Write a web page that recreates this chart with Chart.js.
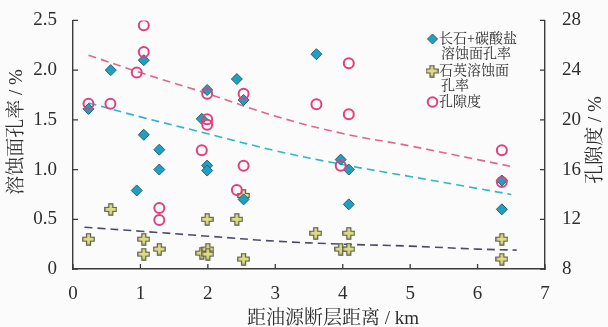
<!DOCTYPE html>
<html>
<head>
<meta charset="utf-8">
<script src="https://cdn.jsdelivr.net/npm/chart.js@4.4.0/dist/chart.umd.min.js"></script>
<style>
  html, body { margin: 0; padding: 0; background: #fbfbfb; }
  #wrap { width: 608px; height: 327px; }
</style>
</head>
<body>
<div id="wrap"><canvas id="c" width="608" height="327"></canvas></div>
<script>
// Distance to oil-source fault (km) and measured dissolution / porosity values
const feldsparDist = [0.23, 0.56, 1.05, 1.05, 0.945, 1.28, 1.28, 1.99, 1.91, 1.99, 1.99, 2.43, 2.53, 2.53, 3.61, 3.97, 4.09, 4.09, 6.36, 6.36];
const feldsparRate = [1.61, 2.00, 2.10, 1.35, 0.79, 1.20, 1.00, 1.80, 1.51, 1.04, 0.99, 1.91, 1.70, 0.70, 2.16, 1.10, 1.00, 0.65, 0.89, 0.60];

const quartzDist = [0.23, 0.56, 1.05, 1.05, 1.28, 1.99, 1.91, 2.00, 2.00, 2.43, 2.53, 2.53, 3.60, 4.09, 3.97, 4.09, 6.36, 6.36];
const quartzRate = [0.30, 0.60, 0.30, 0.15, 0.20, 0.50, 0.16, 0.20, 0.15, 0.50, 0.74, 0.10, 0.36, 0.36, 0.20, 0.20, 0.30, 0.10];

const porosityDist = [1.05, 1.05, 0.945, 0.23, 0.555, 1.99, 1.99, 1.99, 1.91, 2.53, 2.53, 2.43, 1.28, 1.28, 4.09, 3.61, 4.09, 3.97, 6.36, 6.36];
const porosity     = [27.6, 25.45, 23.8, 21.3, 21.3, 22.1, 20.05, 19.6, 17.55, 22.1, 16.3, 14.35, 12.9, 11.95, 24.55, 21.25, 20.45, 16.3, 17.55, 15.0];

// Trend curves
const feldsparTrendDist = [0.23, 1, 2, 3, 4, 5, 6, 6.5];
const feldsparTrend     = [1.67, 1.53, 1.36, 1.19, 1.05, 0.93, 0.81, 0.75];
const quartzTrendDist   = [0.17, 1, 2, 3, 4, 5, 6, 6.58];
const quartzTrend       = [0.42, 0.38, 0.33, 0.28, 0.25, 0.23, 0.20, 0.19];
const porosityTrendDist = [0.23, 1, 2, 3, 4, 5, 6, 6.55];
const porosityTrend     = [25.2, 23.8, 22.1, 20.3, 18.9, 17.9, 16.8, 16.2];

// Axis tick labels and titles
const xTickLabels = ['0', '1', '2', '3', '4', '5', '6', '7'];
const yTickLabels = ['0', '0.5', '1.0', '1.5', '2.0', '2.5'];
const y1TickLabels = ['8', '12', '16', '20', '24', '28'];
const xTitle = '距油源断层距离 / km';
const yTitle = '溶蚀面孔率 / %';
const y1Title = '孔隙度 / %';
const seriesNames = [['长石+碳酸盐', '溶蚀面孔率'], ['石英溶蚀面', '孔率'], ['孔隙度']];

const TEXT = '#2e2e2e';
const AXIS = '#3a3a3a';
const DIAMOND_FILL = '#1f9fc2';
const DIAMOND_EDGE = '#2d5f6e';
const PLUS_FILL = '#dcdc84';
const PLUS_EDGE = '#5a5a4a';
const RING = '#e0407e';
const SERIF = "'Liberation Serif', 'Times New Roman', serif";
const CJK = "'Liberation Serif', 'Noto Serif CJK SC', serif";

function pairs(xs, ys) { return xs.map((x, i) => ({ x: x, y: ys[i] })); }

// Outlined plus marker drawn on a small canvas
function makePlus() {
  const s = 13, c = document.createElement('canvas');
  c.width = s; c.height = s;
  const g = c.getContext('2d');
  const a = 4.5, b = 8.5, lo = 0.8, hi = s - 0.8;
  g.beginPath();
  g.moveTo(a, lo); g.lineTo(b, lo); g.lineTo(b, a); g.lineTo(hi, a); g.lineTo(hi, b);
  g.lineTo(b, b); g.lineTo(b, hi); g.lineTo(a, hi); g.lineTo(a, b); g.lineTo(lo, b);
  g.lineTo(lo, a); g.lineTo(a, a); g.closePath();
  g.fillStyle = PLUS_FILL; g.fill();
  g.lineWidth = 1.2; g.strokeStyle = PLUS_EDGE; g.stroke();
  return c;
}
const plusMark = makePlus();

function drawDiamond(ctx, x, y, r) {
  ctx.beginPath();
  ctx.moveTo(x, y - r); ctx.lineTo(x + r, y); ctx.lineTo(x, y + r); ctx.lineTo(x - r, y); ctx.closePath();
  ctx.fillStyle = DIAMOND_FILL; ctx.fill();
  ctx.lineWidth = 1; ctx.strokeStyle = DIAMOND_EDGE; ctx.stroke();
}

// Inward tick marks, axis titles and the legend box
const decor = {
  id: 'decor',
  afterDraw(chart) {
    const { ctx, chartArea: a, scales } = chart;
    ctx.save();
    ctx.strokeStyle = AXIS; ctx.lineWidth = 1.3;
    ctx.beginPath();
    scales.y.ticks.forEach(t => { const p = scales.y.getPixelForValue(t.value); ctx.moveTo(a.left, p); ctx.lineTo(a.left + 5, p); });
    scales.y1.ticks.forEach(t => { const p = scales.y1.getPixelForValue(t.value); ctx.moveTo(a.right, p); ctx.lineTo(a.right - 5, p); });
    scales.x.ticks.forEach(t => { const p = scales.x.getPixelForValue(t.value); ctx.moveTo(p, a.bottom); ctx.lineTo(p, a.bottom - 5); });
    ctx.stroke();

    ctx.fillStyle = TEXT;
    ctx.textAlign = 'center'; ctx.textBaseline = 'middle';
    ctx.font = '19px ' + CJK;
    ctx.fillText(xTitle, 333, 319);
    ctx.save(); ctx.translate(17, 132); ctx.rotate(-Math.PI / 2); ctx.fillText(yTitle, 0, 0); ctx.restore();
    ctx.save(); ctx.translate(596, 140); ctx.rotate(-Math.PI / 2); ctx.fillText(y1Title, 0, 0); ctx.restore();

    // legend
    const rows = [[39, 54], [71, 86], [102]];
    ctx.font = '14px ' + CJK;
    ctx.textAlign = 'left';
    seriesNames.forEach((lines, i) => {
      ctx.fillStyle = TEXT;
      lines.forEach((txt, j) => ctx.fillText(txt, j === 0 ? 439 : 441, rows[i][j]));
      const my = rows[i][0];
      if (i === 0) drawDiamond(ctx, 432.5, my, 5);
      else if (i === 1) ctx.drawImage(plusMark, 432 - 6.5, my - 6.5);
      else { ctx.beginPath(); ctx.arc(432.5, my, 4.8, 0, Math.PI * 2); ctx.lineWidth = 2; ctx.strokeStyle = RING; ctx.stroke(); }
    });
    ctx.restore();
  }
};

const trendLine = (data, color, axis) => ({
  data: data, yAxisID: axis, showLine: true, fill: false,
  borderColor: color, borderWidth: 1.6, borderDash: [8, 5],
  pointRadius: 0, pointHoverRadius: 0, tension: 0.4, order: 10
});

function build() {
  new Chart(document.getElementById('c'), {
    type: 'scatter',
    data: {
      datasets: [
        { label: seriesNames[2].join(''), data: pairs(porosityDist, porosity), yAxisID: 'y1',
          pointStyle: 'circle', pointRadius: 5, borderWidth: 2, borderColor: RING, backgroundColor: 'rgba(0,0,0,0)', order: 1 },
        { label: seriesNames[0].join(''), data: pairs(feldsparDist, feldsparRate), yAxisID: 'y',
          pointStyle: 'rectRot', pointRadius: 5.5, borderWidth: 1, borderColor: DIAMOND_EDGE, backgroundColor: DIAMOND_FILL, order: 2 },
        { label: seriesNames[1].join(''), data: pairs(quartzDist, quartzRate), yAxisID: 'y',
          pointStyle: plusMark, pointRadius: 6, order: 3 },
        trendLine(pairs(feldsparTrendDist, feldsparTrend), '#2ab8c9', 'y'),
        trendLine(pairs(quartzTrendDist, quartzTrend), '#4a4c68', 'y'),
        trendLine(pairs(porosityTrendDist, porosityTrend), '#e0668f', 'y1')
      ]
    },
    options: {
      responsive: false, animation: false, devicePixelRatio: 1,
      layout: { padding: { top: 20, left: 0, right: 0, bottom: 0 } },
      plugins: { legend: { display: false }, tooltip: { enabled: false } },
      scales: {
        x: {
          type: 'linear', min: 0, max: 7,
          grid: { display: false },
          border: { display: true, color: AXIS, width: 1.4 },
          ticks: { stepSize: 1, padding: 6, color: TEXT, font: { family: SERIF, size: 19 },
                   callback: (v) => xTickLabels[v] },
          afterFit: (s) => { s.height = 58; }
        },
        y: {
          position: 'left', min: 0, max: 2.5,
          grid: { display: false },
          border: { display: true, color: AXIS, width: 1.4 },
          ticks: { stepSize: 0.5, padding: 8, color: TEXT, font: { family: SERIF, size: 19 },
                   callback: (v) => yTickLabels[Math.round(v / 0.5)] },
          afterFit: (s) => { s.width = 73; }
        },
        y1: {
          position: 'right', min: 8, max: 28,
          grid: { display: false },
          border: { display: true, color: AXIS, width: 1.4 },
          ticks: { stepSize: 4, padding: 9, color: TEXT, font: { family: SERIF, size: 19 },
                   callback: (v) => y1TickLabels[Math.round((v - 8) / 4)] },
          afterFit: (s) => { s.width = 63; }
        }
      }
    },
    plugins: [decor]
  });
}

Promise.all([
  document.fonts.load("19px 'Liberation Serif'"),
  document.fonts.load("19px 'Noto Serif CJK SC'", '孔隙度')
]).then(build, build);
</script>
</body>
</html>
